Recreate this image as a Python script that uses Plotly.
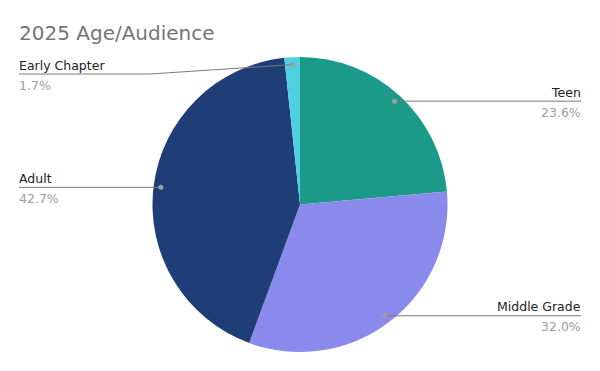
import math
import plotly.graph_objects as go

# ---- data ----
categories = ["Teen", "Middle Grade", "Adult", "Early Chapter"]
values = [23.6, 32.0, 42.7, 1.7]
colors = ["#1b9a89", "#8a8aec", "#1f3d77", "#4fd0e1"]
title_text = "2025 Age/Audience"

W, H = 600, 371
CX, CY, R = 300.0, 204.5, 147.5   # pie centre / radius in px
LEFT_X, RIGHT_X = 19.0, 581.0
DOT_FRAC = 0.95
FONT = "DejaVu Sans"
LABEL_SIZE = 12.5

def px(x):
    return x / W

def py(y):
    return 1 - y / H

fig = go.Figure(go.Pie(
    labels=categories,
    values=values,
    marker=dict(colors=colors, line=dict(width=0)),
    sort=False,
    direction="clockwise",
    rotation=0,
    textinfo="none",
    hoverinfo="label+percent",
    showlegend=False,
    domain=dict(x=[px(CX - R), px(CX + R)], y=[py(CY + R), py(CY - R)]),
))

shapes = []
annotations = []
total = sum(values)
cum = 0.0
for cat, v in zip(categories, values):
    mid = (cum + v / 2) / total * 2 * math.pi
    cum += v
    dx, dy = math.sin(mid), -math.cos(mid)
    dotx = CX + DOT_FRAC * R * dx
    doty = CY + DOT_FRAC * R * dy
    pct = f"{v / total * 100:.1f}%"
    right = dx >= 0
    ly = max(doty, 74.0)
    bent = abs(ly - doty) > 0.5
    endx = RIGHT_X if right else LEFT_X
    elbx = (450.0 if right else 150.0) if bent else dotx
    # leader line
    if bent:
        shapes.append(dict(type="line", xref="paper", yref="paper",
                           x0=px(dotx), y0=py(doty), x1=px(elbx), y1=py(ly),
                           line=dict(color="#7a7a7a", width=1)))
    shapes.append(dict(type="line", xref="paper", yref="paper",
                       x0=px(elbx), y0=py(ly), x1=px(endx), y1=py(ly),
                       line=dict(color="#7a7a7a", width=1)))
    # dot
    shapes.append(dict(type="circle", xref="paper", yref="paper",
                       x0=px(dotx - 2.5), x1=px(dotx + 2.5),
                       y0=py(doty + 2.5), y1=py(doty - 2.5),
                       fillcolor="#9e9e9e", line=dict(width=0)))
    anchor = "right" if right else "left"
    annotations.append(dict(xref="paper", yref="paper", x=px(endx), y=py(ly - 1.5),
                            text=cat, showarrow=False, xanchor=anchor, yanchor="bottom",
                            borderpad=0, borderwidth=0,
                            font=dict(family=FONT, size=LABEL_SIZE, color="#222222")))
    annotations.append(dict(xref="paper", yref="paper", x=px(endx), y=py(ly + 3.5),
                            text=pct, showarrow=False, xanchor=anchor, yanchor="top",
                            borderpad=0, borderwidth=0,
                            font=dict(family=FONT, size=LABEL_SIZE, color="#9e9e9e")))

fig.update_layout(
    width=W, height=H,
    margin=dict(l=0, r=0, t=0, b=0),
    paper_bgcolor="white",
    plot_bgcolor="white",
    title=dict(text=title_text, x=px(LEFT_X), xanchor="left", xref="paper",
               y=py(33), yanchor="middle", yref="paper",
               font=dict(family=FONT, size=20, color="#757575")),
    shapes=shapes,
    annotations=annotations,
)

fig.write_html("out.html", config={"displayModeBar": False},
               post_script="document.body.style.margin='0px';")
